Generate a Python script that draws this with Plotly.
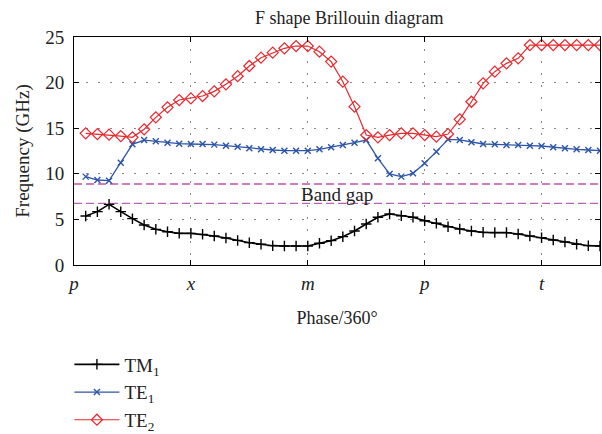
import plotly.graph_objects as go

phase_index = list(range(1, 46))

tm1 = [5.37, 5.85, 6.65, 5.85, 5.08, 4.39, 3.91, 3.65, 3.47, 3.47,
       3.36, 3.18, 2.96, 2.70, 2.45, 2.27, 2.12, 2.08, 2.08, 2.08,
       2.38, 2.67, 3.11, 3.73, 4.50, 5.23, 5.59, 5.40, 5.23, 4.86,
       4.57, 4.20, 3.95, 3.73, 3.58, 3.55, 3.55, 3.40, 3.18, 3.00,
       2.74, 2.52, 2.27, 2.12, 2.08]

te1 = [9.69, 9.32, 9.25, 11.22, 13.23, 13.70, 13.56, 13.41, 13.30, 13.27,
       13.27, 13.20, 13.08, 12.96, 12.79, 12.68, 12.61, 12.54, 12.54, 12.54,
       12.68, 12.90, 13.16, 13.41, 13.70, 11.70, 9.98, 9.69, 10.05, 11.15,
       12.43, 13.78, 13.71, 13.45, 13.27, 13.23, 13.16, 13.16, 13.08, 13.05,
       12.90, 12.79, 12.68, 12.61, 12.54]

te2 = [14.44, 14.36, 14.29, 14.14, 14.00, 14.88, 16.19, 17.29, 18.09, 18.27,
       18.53, 19.04, 19.81, 20.70, 21.82, 22.73, 23.28, 23.76, 24.01, 24.01,
       23.39, 22.30, 20.10, 17.36, 14.25, 14.00, 14.25, 14.44, 14.44, 14.25,
       14.07, 14.36, 15.97, 17.90, 19.92, 21.20, 22.11, 22.66, 24.12, 24.12,
       24.12, 24.12, 24.12, 24.12, 24.12]

band_gap_upper = 8.88
band_gap_lower = 6.76

tick_positions = [0, 10, 20, 30, 40]
tick_labels = ["p", "x", "m", "p", "t"]
y_ticks = [0, 5, 10, 15, 20, 25]

FONT = "Liberation Serif"
TXT = "#222"

fig = go.Figure()

fig.add_trace(go.Scatter(
    x=[0, 45], y=[band_gap_upper, band_gap_upper], mode="lines",
    line=dict(color="#c450a8", width=1.3, dash="8px,4px"), showlegend=False, hoverinfo="skip"))
fig.add_trace(go.Scatter(
    x=[0, 45], y=[band_gap_lower, band_gap_lower], mode="lines",
    line=dict(color="#b864b4", width=1.3, dash="8px,4px"), showlegend=False, hoverinfo="skip"))

fig.add_trace(go.Scatter(
    x=phase_index, y=tm1, mode="lines+markers", name="TM<sub>1</sub>",
    line=dict(color="black", width=1.6),
    marker=dict(symbol="cross-thin-open", size=7.5, line=dict(color="black", width=1.4))))
fig.add_trace(go.Scatter(
    x=phase_index, y=te1, mode="lines+markers", name="TE<sub>1</sub>",
    line=dict(color="#2d55a8", width=1.3),
    marker=dict(symbol="x-thin-open", size=6, line=dict(color="#2d55a8", width=1.4))))
fig.add_trace(go.Scatter(
    x=phase_index, y=te2, mode="lines+markers", name="TE<sub>2</sub>",
    line=dict(color="#e8282c", width=1.2),
    marker=dict(symbol="diamond-open", size=8.5, line=dict(color="#e8282c", width=1.2))))

fig.add_annotation(x=22.5, y=7.7, text="Band gap", showarrow=False,
                   font=dict(family=FONT, size=19, color=TXT))

fig.update_layout(
    width=602, height=434,
    margin=dict(l=74, r=2, t=37, b=169, autoexpand=False),
    paper_bgcolor="white", plot_bgcolor="white",
    font=dict(family=FONT, size=17, color=TXT),
    title=dict(text="F shape Brillouin diagram", x=0.58, xanchor="center",
               xref="container", yref="container", y=1 - 18 / 434, yanchor="middle",
               font=dict(family=FONT, size=18, color=TXT)),
    showlegend=True,
    legend=dict(x=-0.0087, y=-0.353, xref="paper", yref="paper",
                xanchor="left", yanchor="top", orientation="v",
                font=dict(family=FONT, size=19, color=TXT), bgcolor="rgba(0,0,0,0)",
                itemwidth=45),
)

fig.update_xaxes(
    range=[0, 45], tickmode="array", tickvals=tick_positions,
    ticktext=["<i>%s</i>" % t for t in tick_labels],
    showline=True, linecolor="black", linewidth=1, mirror="allticks",
    ticks="inside", ticklen=5, tickcolor="black",
    showgrid=True, gridcolor="#888", griddash="2px,10px", gridwidth=1,
    zeroline=False, tickfont=dict(family=FONT, size=19, color=TXT),
    ticklabelstandoff=1, automargin=False,
    title=dict(text="Phase/360°", font=dict(family=FONT, size=18, color=TXT), standoff=18),
)
fig.update_yaxes(
    range=[0, 25], tickmode="array", tickvals=y_ticks,
    showline=True, linecolor="black", linewidth=1, mirror="allticks",
    ticks="inside", ticklen=5, tickcolor="black",
    showgrid=True, gridcolor="#888", griddash="2px,10px", gridwidth=1,
    zeroline=False, tickfont=dict(family=FONT, size=19, color=TXT),
    ticklabelstandoff=5, automargin=False,
    title=dict(text="Frequency (GHz)", font=dict(family=FONT, size=19, color=TXT), standoff=10),
)

fig.write_html("out.html", config={"displayModeBar": False},
               post_script="document.body.style.margin='0';")
